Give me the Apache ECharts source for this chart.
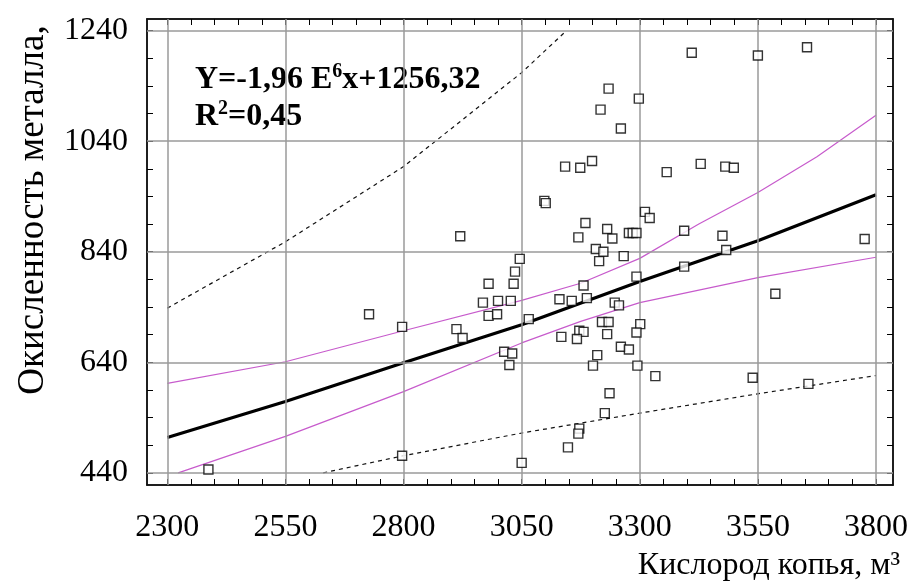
<!DOCTYPE html>
<html lang="ru">
<head>
<meta charset="UTF-8">
<title>Окисленность металла</title>
<script src="https://cdn.jsdelivr.net/npm/echarts@6/dist/echarts.min.js"></script>
<style>
  html, body { margin: 0; background: #fff; }
  #chart { width: 912px; height: 587px; }
</style>
</head>
<body>
<div id="chart"></div>
<script>
// tick labels
var xTicks = [2300, 2550, 2800, 3050, 3300, 3550, 3800];
var yTicks = [440, 640, 840, 1040, 1240];

// measured points: oxygen (x) and metal oxidation (y)
var oxygen = [2387, 2727, 2797, 2797, 2920, 2912, 2925, 2980, 2968, 3000,
  2980, 2998, 3027, 3033, 3036, 3046, 3013, 3030, 3024, 3050,
  3065, 3098, 3101, 3142, 3174, 3199, 3217, 3234, 3260, 3298,
  3357, 3410, 3429, 3481, 3499, 3550, 3654, 3185, 3170, 3231,
  3242, 3277, 3285, 3293, 3311, 3321, 3394, 3475, 3776, 3207,
  3223, 3483, 3214, 3266, 3181, 3130, 3156, 3188, 3293, 3247,
  3256, 3220, 3234, 3172, 3181, 3301, 3293, 3134, 3167, 3231,
  3260, 3277, 3210, 3201, 3295, 3333, 3539, 3657, 3236, 3226,
  3172, 3170, 3148, 3394, 3587];
var oxidation = [446, 727, 704, 471, 868, 700, 684, 782, 748, 751,
  724, 727, 751, 782, 804, 827, 659, 656, 635, 458,
  718, 932, 928, 994, 992, 1004, 1097, 1135, 1063, 1117,
  984, 1200, 999, 994, 992, 1195, 1210, 892, 866, 881,
  864, 874, 874, 874, 912, 901, 878, 869, 863, 845,
  840, 843, 823, 832, 779, 754, 751, 756, 795, 748,
  743, 713, 713, 697, 695, 709, 694, 686, 682, 691,
  668, 663, 653, 634, 634, 615, 612, 601, 584, 548,
  520, 511, 486, 813, 764];

// regression line
var fitX = [2300, 2550, 2800, 3050, 3300, 3550, 3800];
var fitY = [504, 569, 639, 708, 786, 860, 943];

// confidence band
var ciUpX = [2300, 2550, 2800, 3050, 3175, 3300, 3425, 3550, 3675, 3800];
var ciUpY = [602, 641, 697, 752, 783, 828, 890, 947, 1012, 1087];
var ciLoX = [2323, 2550, 2800, 3050, 3175, 3300, 3550, 3800];
var ciLoY = [440, 506, 587, 675, 714, 748, 793, 830];

// prediction band
var piUpX = [2300, 2550, 2800, 3050, 3145];
var piUpY = [738, 858, 994, 1164, 1240];
var piLoX = [2630, 2800, 3050, 3300, 3550, 3800];
var piLoY = [440, 471, 512, 548, 583, 616];

function pairs(xs, ys) {
  return xs.map(function (x, i) { return [x, ys[i]]; });
}
function minorTicks(ticks, step) {
  var out = [];
  for (var v = ticks[0]; v <= ticks[ticks.length - 1]; v += step) out.push(v);
  return out;
}

var serif = '"Liberation Serif", "Times New Roman", serif';
var tickStyle = { show: true, inside: true, length: 6, lineStyle: { color: '#000', width: 1 } };

function xAx(pos, labels) {
  return {
    type: 'value', position: pos, min: 2257, max: 3836,
    axisLine: { show: true, onZero: false, lineStyle: { color: '#111', width: 1.5 } },
    axisTick: Object.assign({ customValues: minorTicks(xTicks, 50) }, tickStyle),
    axisLabel: {
      show: labels, customValues: xTicks, margin: 27,
      fontFamily: serif, fontSize: 32, color: '#000',
      formatter: function (v) { return String(v); }
    },
    splitLine: { show: false }
  };
}
function yAx(pos, labels) {
  return {
    type: 'value', position: pos, min: 418, max: 1261,
    axisLine: { show: true, onZero: false, lineStyle: { color: '#111', width: 1.5 } },
    axisTick: Object.assign({ customValues: minorTicks(yTicks, 50) }, tickStyle),
    axisLabel: {
      show: labels, customValues: yTicks, margin: 19,
      fontFamily: serif, fontSize: 32, color: '#000',
      formatter: function (v) { return String(v); }
    },
    splitLine: { show: false }
  };
}

var chart = echarts.init(document.getElementById('chart'));
var option = {
  animation: false,
  backgroundColor: '#fff',
  grid: {
    left: 147, right: 19, top: 19, bottom: 102,
    show: true, borderColor: '#111', borderWidth: 1.5, backgroundColor: '#fff',
    outerBoundsMode: 'none'
  },
  xAxis: [xAx('bottom', true), xAx('top', false)],
  yAxis: [yAx('left', true), yAx('right', false)],
  graphic: [
    {
      type: 'text', x: 33, y: 210, rotation: Math.PI / 2,
      style: {
        text: 'Окисленность металла,', fontFamily: serif, fontSize: 37, fill: '#000',
        textAlign: 'center', textVerticalAlign: 'middle'
      }
    },
    {
      type: 'text', x: 900, y: 582,
      style: {
        text: 'Кислород копья, м³', fontFamily: serif, fontSize: 32, fill: '#000',
        textAlign: 'right', textVerticalAlign: 'bottom'
      }
    },
    {
      type: 'text', x: 195, y: 61,
      style: {
        text: '{b|Y=-1,96 E}{s|6}{b|x+1256,32}\n{b|R}{s|2}{b|=0,45}',
        fill: '#000',
        rich: {
          b: { fontFamily: serif, fontWeight: 'bold', fontSize: 32, lineHeight: 37 },
          s: { fontFamily: serif, fontWeight: 'bold', fontSize: 20, lineHeight: 37, padding: [0, 0, 16, 0] }
        }
      }
    }
  ],
  series: [
    {
      name: 'grid', type: 'line', data: [], z: 1, silent: true,
      markLine: {
        silent: true, symbol: 'none', animation: false,
        label: { show: false },
        lineStyle: { color: '#9a9a9a', width: 1.5, type: 'solid' },
        data: xTicks.map(function (v) { return { xAxis: v }; })
          .concat(yTicks.map(function (v) { return { yAxis: v }; }))
      }
    },
    {
      name: 'pi-up', type: 'line', data: pairs(piUpX, piUpY), symbol: 'none', z: 3,
      lineStyle: { color: '#111', width: 1.2, type: [4, 4] }
    },
    {
      name: 'pi-lo', type: 'line', data: pairs(piLoX, piLoY), symbol: 'none', z: 3,
      lineStyle: { color: '#111', width: 1.2, type: [4, 4] }
    },
    {
      name: 'ci-up', type: 'line', data: pairs(ciUpX, ciUpY), symbol: 'none', z: 3,
      lineStyle: { color: '#c75bcc', width: 1.2 }
    },
    {
      name: 'ci-lo', type: 'line', data: pairs(ciLoX, ciLoY), symbol: 'none', z: 3,
      lineStyle: { color: '#c75bcc', width: 1.2 }
    },
    {
      name: 'fit', type: 'line', data: pairs(fitX, fitY), symbol: 'none', z: 4,
      lineStyle: { color: '#000', width: 3.2 }
    },
    {
      name: 'points', type: 'scatter', data: pairs(oxygen, oxidation), z: 5,
      symbol: 'rect', symbolSize: 9,
      itemStyle: { color: '#fff', borderColor: '#000', borderWidth: 1.4 }
    }
  ]
};
chart.setOption(option);
</script>
</body>
</html>
